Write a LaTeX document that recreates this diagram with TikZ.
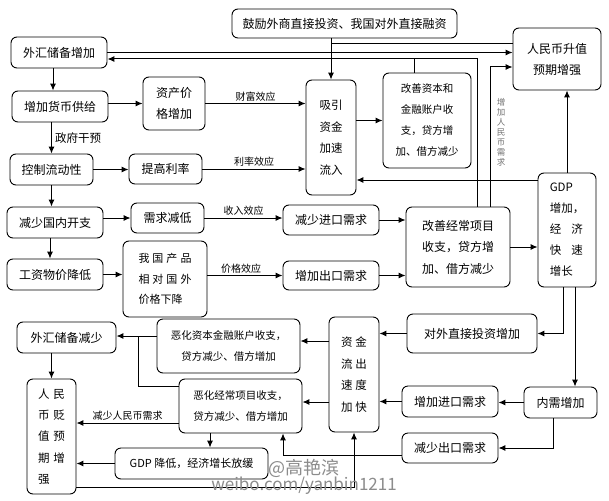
\documentclass[tikz,border=0pt]{standalone}
\usepackage{fontspec}
\setmainfont{Noto Sans CJK SC}
\usetikzlibrary{arrows.meta}
\begin{document}
\begin{tikzpicture}[x=1pt,y=-1pt,
  box/.style={draw, line width=0.9pt, rounded corners=6pt, inner sep=0pt, align=center, font=\fontsize{12}{21}\selectfont},
  sbox/.style={box, font=\fontsize{10.5}{21}\selectfont},
  sz/.style 2 args={minimum width=#1, minimum height=#2},
  arr/.style={line width=1pt, -{Latex[length=7pt,width=6pt]}},
  ln/.style={line width=1pt},
  lab/.style={font=\fontsize{10}{12}\selectfont, inner sep=2pt}]
\fill[white] (0,0) rectangle (609,500);
\useasboundingbox (0,0) rectangle (609,500);

% nodes
\node[box,sz={225}{29}] (gl) at (344.5,23.5) {鼓励外商直接投资、我国对外直接融资};
\node[box,sz={96}{31}] (wh1) at (59,52.5) {外汇储备增加};
\node[box,sz={96}{31}] (hb) at (60,106.5) {增加货币供给};
\node[box,sz={62}{53}] (zc) at (174,103.5) {资产价\\格增加};
\node[box,sz={83}{31}] (kz) at (51.5,169.5) {控制流动性};
\node[box,sz={73}{30}] (tg) at (165.5,169) {提高利率};
\node[box,sz={50}{115},font=\fontsize{11.5}{21.5}\selectfont] (xy) at (331,137.5) {吸引\\资金\\加速\\流入};
\node[sbox,sz={88}{95}] (gs) at (427,120.5) {改善资本和\\金融账户收\\支，贷方增\\加、借方减少};
\node[box,sz={88}{62}] (rs) at (557,59) {人民币升值\\预期增强};
\node[box,sz={58}{114},align=left,font=\fontsize{11.5}{21}\selectfont] (gdp) at (567,230) {GDP\\增加，\\经\hspace{10pt}济\\快\hspace{10pt}速\\增长};
\node[box,sz={96}{31}] (jn) at (55,222.5) {减少国内开支};
\node[box,sz={73}{30}] (xq) at (167.5,218) {需求减低};
\node[box,sz={96}{30}] (jj) at (331,220) {减少进口需求};
\node[box,sz={104}{80},font=\fontsize{12}{21.5}\selectfont] (gj) at (458,247) {改善经常项目\\收支，贷方增\\加、借方减少};
\node[box,sz={96}{31}] (gz) at (55,274.5) {工资物价降低};
\node[box,sz={84}{76},align=left,font=\fontsize{11}{20.5}\selectfont] (wc) at (165,279) {我\hspace{3pt}国\hspace{3pt}产\hspace{3pt}品\\相\hspace{3pt}对\hspace{3pt}国\hspace{3pt}外\\价格下降};
\node[box,sz={96}{29}] (ck) at (331,275.5) {增加出口需求};
\node[box,sz={130}{39}] (dw) at (472,333.5) {对外直接投资增加};
\node[box,sz={50}{115},font=\fontsize{11.5}{21.5}\selectfont] (lc) at (354,374.5) {资\hspace{3pt}金\\流\hspace{3pt}出\\速\hspace{3pt}度\\加\hspace{3pt}快};
\node[sbox,sz={143}{54}] (eh1) at (228.5,346) {恶化资本金融账户收支，\\贷方减少、借方增加};
\node[box,sz={99}{31}] (wh2) at (66.5,337.5) {外汇储备减少};
\node[box,sz={49}{115},align=left,font=\fontsize{11.5}{21.3}\selectfont] (bz) at (51.5,436.5) {人\hspace{4pt}民\\币\hspace{4pt}贬\\值\hspace{4pt}预\\期\hspace{4pt}增\\强};
\node[sbox,sz={123}{54}] (eh2) at (240.5,406) {恶化经常项目收支，\\贷方减少、借方增加};
\node[box,sz={153}{31},font=\fontsize{11}{14}\selectfont] (gd) at (191.5,463.5) {GDP 降低，经济增长放缓};
\node[box,sz={96}{31}] (jk) at (450,401.5) {增加进口需求};
\node[box,sz={73}{31}] (nx) at (560.5,402.5) {内需增加};
\node[box,sz={96}{30}] (jc) at (450,448) {减少出口需求};

% helper coordinates
\coordinate (c1) at (331,44);
\coordinate (c2) at (414,59);
\coordinate (c3) at (477,59);
\coordinate (c4) at (490,67);
\coordinate (p1) at (538,180);
\coordinate (p2) at (563,287);
\coordinate (p3) at (575,287);
\coordinate (p4) at (553,418);
\coordinate (p5) at (283,455);
\coordinate (p6) at (354,487);
\coordinate (p7) at (329,341);
\coordinate (p8) at (329,402);
\coordinate (p9) at (138,336);
\coordinate (p10) at (138,386);
\coordinate (p11) at (179,423);
\coordinate (p12) at (210,433);

% top connectors
\draw[arr] (xy.north |- gl.south) -- (xy.north);
\draw[ln] (c1) -- (c1 -| rs.west);
\draw[arr] (wh1.east) -- (wh1.east -| rs.west);
\draw[ln] (gs.north -| c2) -- (c2);
\draw[arr] (c3 |- gj.north) -- (c3) -- (c3 -| wh1.east);
\draw[arr] (c4 |- gj.north) -- (c4) -- (c4 -| rs.west);
\node[font=\fontsize{8.5}{10}\selectfont, text=black!55, align=center, inner sep=0pt] (lbl1) at (501,132) {增\\加\\人\\民\\币\\需\\求};

% left column
\draw[arr] ([xshift=-6pt]wh1.south) -- ([xshift=-6pt]wh1.south |- hb.north);
\draw[arr] (hb.east |- zc.west) -- (zc.west);
\draw[arr] (zc.east) -- node[above,lab]{财富效应} (zc.east -| xy.west);
\draw[arr] (kz.north |- hb.south) -- node[right,font=\fontsize{11.5}{13}\selectfont,inner sep=3pt]{政府干预} (kz.north);
\draw[arr] (kz.east) -- (kz.east -| tg.west);
\draw[arr] (tg.east) -- node[above,lab]{利率效应} (tg.east -| xy.west);
\draw[arr] (xy.east |- gs.west) -- (gs.west);
\draw[arr] (p1) -- (p1 -| xy.east);
\draw[arr] (gdp.north) -- (gdp.north |- rs.south);
\draw[arr] (kz.south) -- (kz.south |- jn.north);
\draw[arr] (jn.east |- xq.west) -- (xq.west);
\draw[arr] (xq.east) -- node[above,lab]{收入效应} (xq.east -| jj.west);
\draw[arr] ([xshift=-5pt]jn.south) -- ([xshift=-5pt]gz.north);
\draw[arr] (gz.east) -- (gz.east -| wc.west);
\draw[arr] (wc.east |- ck.west) -- node[above,lab,pos=0.45]{价格效应} (ck.west);
\draw[arr] (jj.east) -- (jj.east -| gj.west);
\draw[arr] (ck.east) -- (ck.east -| gj.west);
\draw[arr] (gj.east) -- (gj.east -| gdp.west);

% lower part
\draw[arr] (p2) |- (dw.east);
\draw[arr] (p3) -- (p3 |- nx.north);
\draw[arr] (dw.west) -- (dw.west -| lc.east);
\draw[arr] (nx.west) -- (nx.west -| jk.east);
\draw[arr] (jk.west) -- (jk.west -| lc.east);
\draw[arr] (p4) |- (jc.east);
\draw[arr] (p5 -| jc.west) -- (p5) -- (p5 |- eh2.south);
\draw[arr] (p6 -| bz.east) -- (p6) -- (p6 |- lc.south);
\draw[arr] (p7) -- (p7 -| eh1.east);
\draw[arr] (p8) -- (p8 -| eh2.east);
\draw[arr] (p9 -| eh1.west) -- (p9 -| wh2.east);
\draw[ln] (p10 -| eh2.west) -- (p10) -- (p9);
\draw[arr] (bz.north |- wh2.south) -- (bz.north);
\draw[arr] (p11) -- node[above,lab]{减少人民币需求} (p11 -| bz.east);
\draw[arr] (p12) -- (p12 |- gd.north);
\draw[arr] (gd.west) -- (gd.west -| bz.east);

% watermark
\node[font=\fontsize{18}{20}\selectfont, text=black!45, inner sep=0pt] (wm1) at (304,468) {@高艳滨};
\node[font=\fontsize{17}{18}\selectfont, text=black!45, inner sep=0pt] (wm2) at (304,486) {weibo.com/yanbin1211};
\end{tikzpicture}
\end{document}
